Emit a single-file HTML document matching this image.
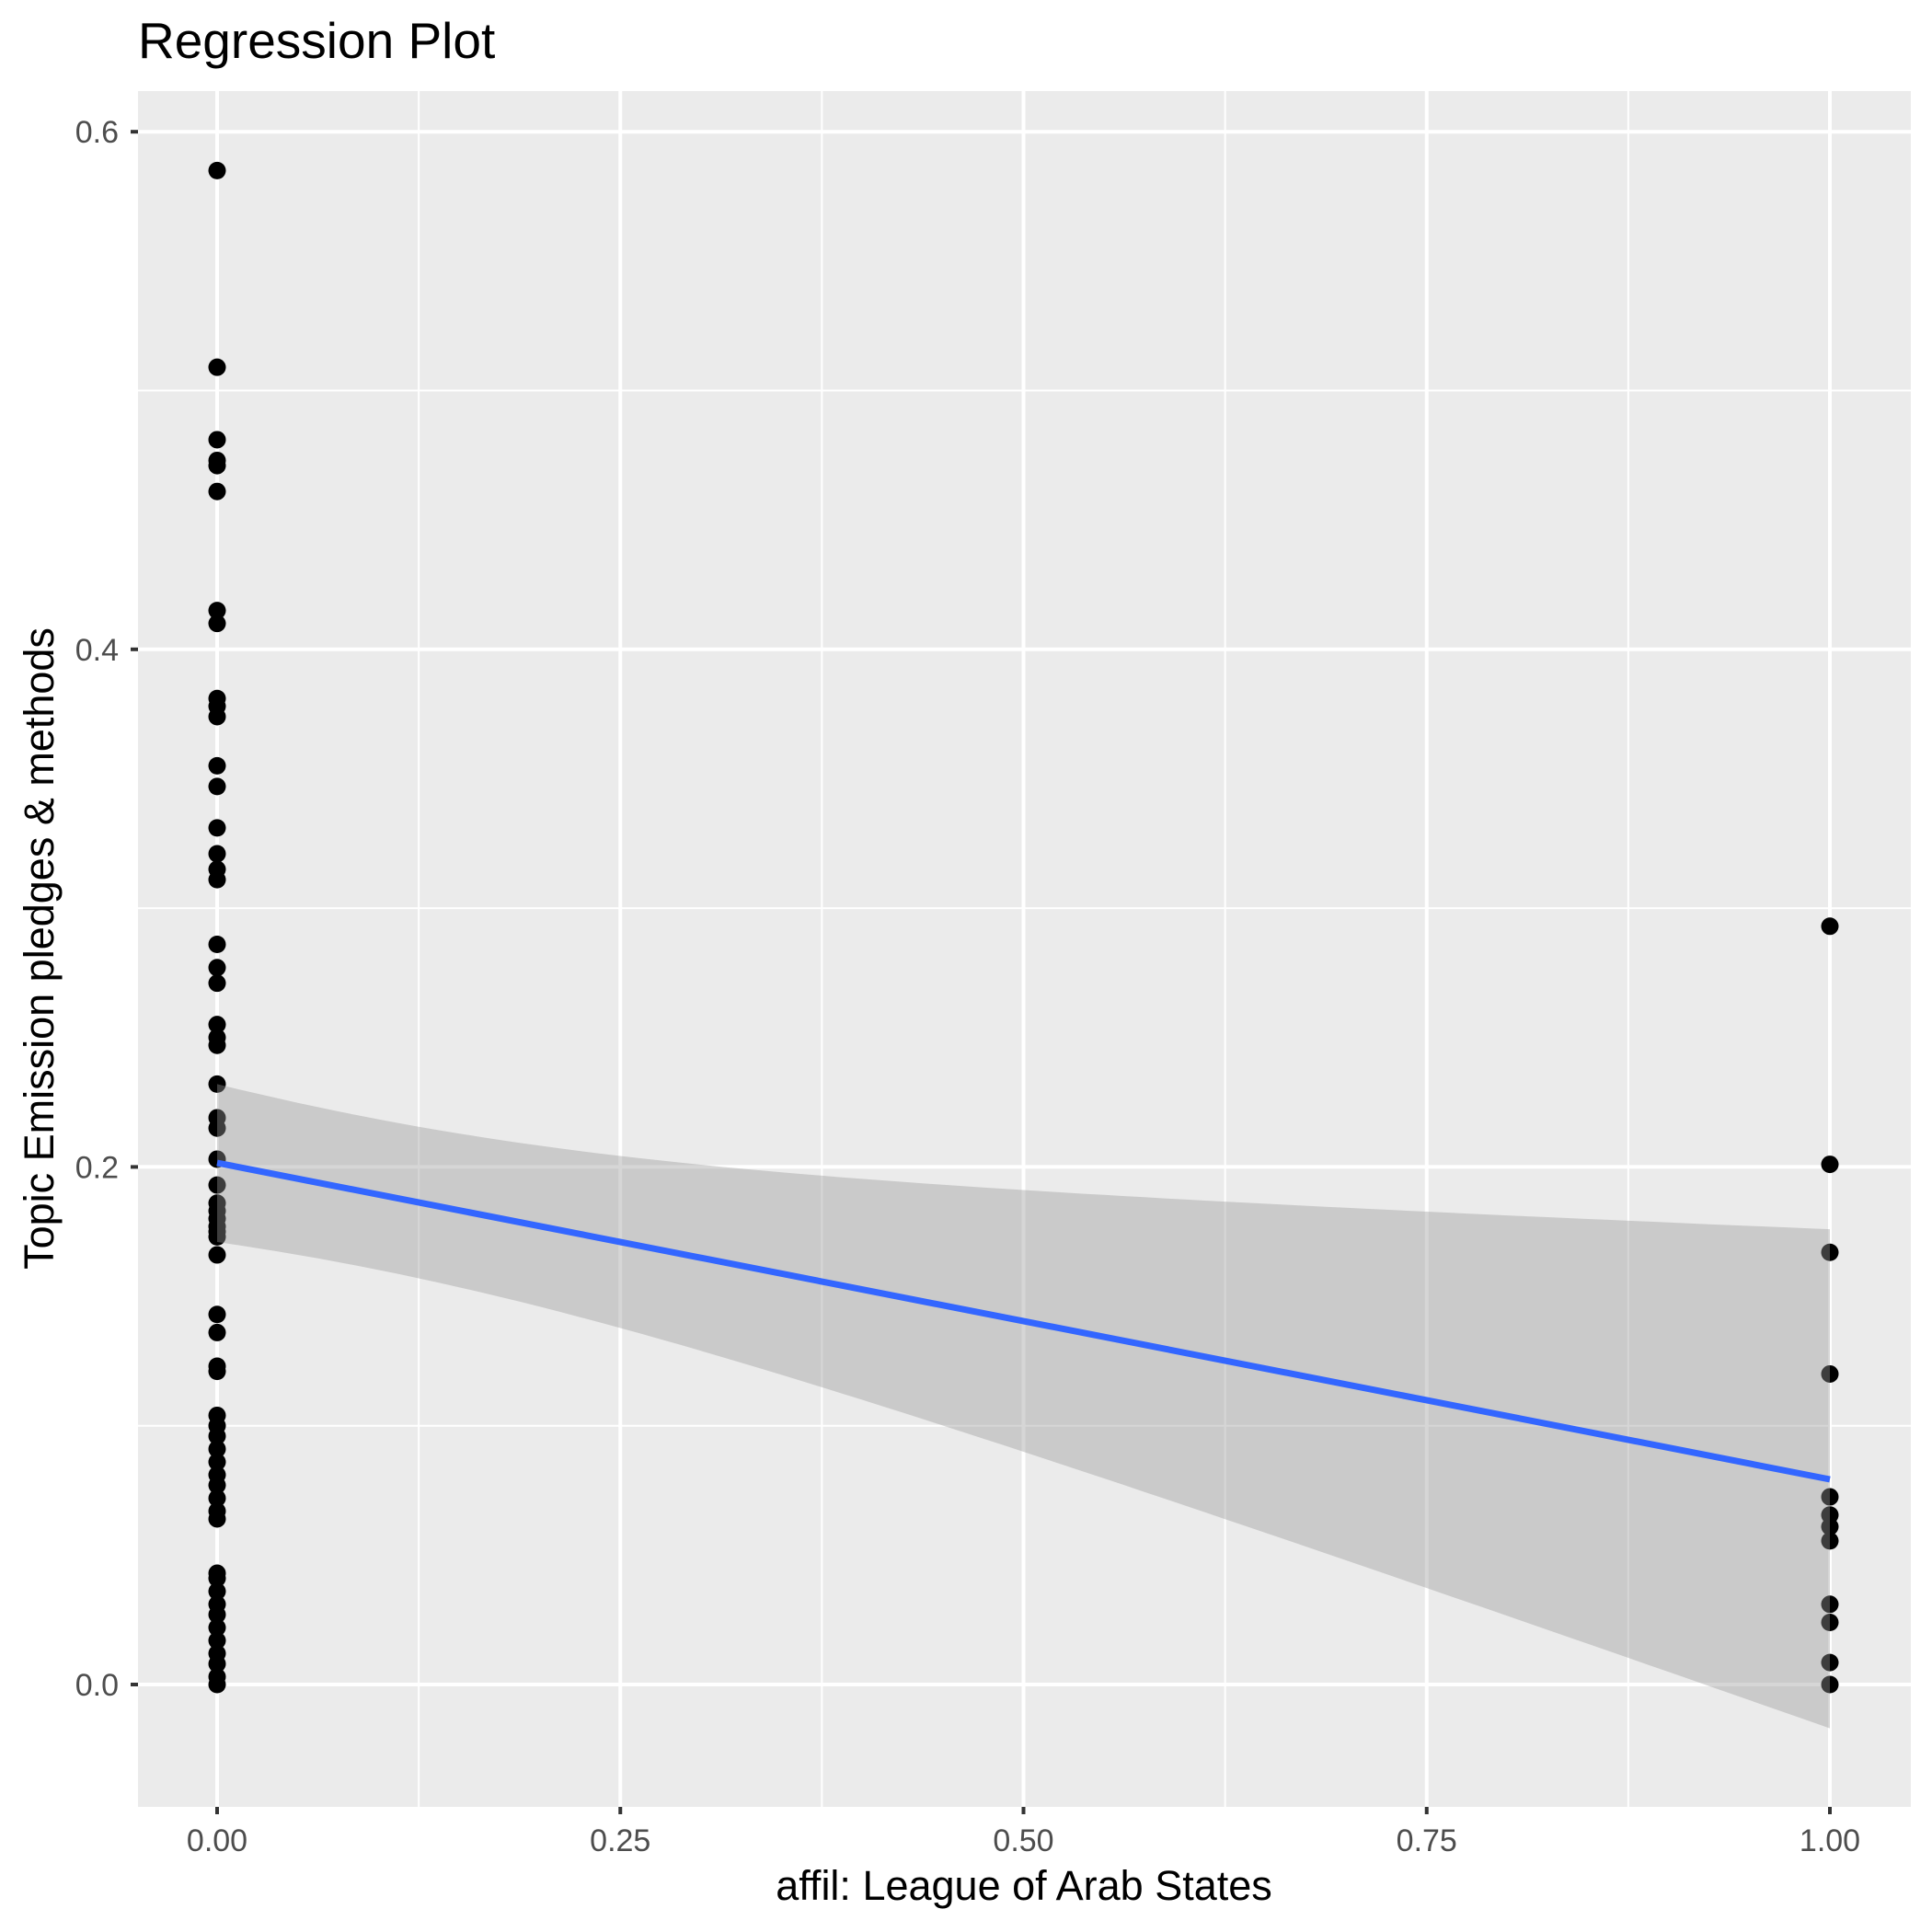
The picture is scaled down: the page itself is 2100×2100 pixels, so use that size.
<!DOCTYPE html>
<html><head><meta charset="utf-8"><style>
html,body{margin:0;padding:0;background:#fff}
svg{display:block}
text{font-family:"Liberation Sans",Arial,sans-serif}
</style></head><body>
<svg id="s" width="2100" height="2100" viewBox="0 0 2100 2100" xmlns="http://www.w3.org/2000/svg">
<rect x="0" y="0" width="2100" height="2100" fill="#fff"/>
<rect x="150" y="99" width="1927" height="1865" fill="#EBEBEB"/>
<g id="grid"></g>
<g id="pts"></g>
<path id="rib" fill="#999999" fill-opacity="0.4" stroke="none"/>
<line x1="236" y1="1264" x2="1989" y2="1608" stroke="#3366FF" stroke-width="7"/>
<g id="ax"></g>
<text x="150" y="63" font-size="55" fill="#000">Regression Plot</text>
<text x="1113" y="2065" font-size="45" fill="#000" text-anchor="middle">affil: League of Arab States</text>
<text transform="translate(58,1031) rotate(-90)" font-size="45" fill="#000" text-anchor="middle">Topic Emission pledges &amp; methods</text>
</svg>
<script>
var NS="http://www.w3.org/2000/svg";
function X(v){return 236+1753*v}
function Y(v){return 1831-2813*v}
function el(p,t,a,txt){var e=document.createElementNS(NS,t);for(var k in a)e.setAttribute(k,a[k]);if(txt)e.textContent=txt;document.getElementById(p).appendChild(e);return e}
[-0.125,0.125,0.375,0.625,0.875].forEach(function(v){var x=X(v);if(x>150&&x<2077)el("grid","line",{x1:x,x2:x,y1:99,y2:1964,stroke:"#fff","stroke-width":2});});
[0.1,0.3,0.5].forEach(function(v){var y=Y(v);el("grid","line",{x1:150,x2:2077,y1:y,y2:y,stroke:"#fff","stroke-width":2});});
[0,0.25,0.5,0.75,1].forEach(function(v){var x=X(v);el("grid","line",{x1:x,x2:x,y1:99,y2:1964,stroke:"#fff","stroke-width":4});
 el("ax","line",{x1:x,x2:x,y1:1964,y2:1972,stroke:"#333","stroke-width":4});
 el("ax","text",{x:x,y:2012,"font-size":34,fill:"#4D4D4D","text-anchor":"middle"},v.toFixed(2));});
[0,0.2,0.4,0.6].forEach(function(v){var y=Y(v);el("grid","line",{x1:150,x2:2077,y1:y,y2:y,stroke:"#fff","stroke-width":4});
 el("ax","line",{x1:142,x2:150,y1:y,y2:y,stroke:"#333","stroke-width":4});
 el("ax","text",{x:129,y:y+12,"font-size":34,fill:"#4D4D4D","text-anchor":"end"},v.toFixed(1));});
var p0=[0.585,0.509,0.481,0.473,0.471,0.461,0.415,0.410,0.381,0.378,0.374,0.355,0.347,0.331,0.321,0.315,0.311,0.286,0.277,0.271,0.255,0.250,0.247,0.232,0.219,0.215,0.203,0.193,0.186,0.183,0.180,0.177,0.175,0.173,0.166,0.143,0.136,0.123,0.121,0.104,0.100,0.096,0.091,0.086,0.081,0.077,0.072,0.067,0.064,0.043,0.041,0.036,0.031,0.027,0.022,0.017,0.012,0.008,0.003,0];
var p1=[0.293,0.201,0.167,0.120,0.0725,0.0655,0.061,0.0555,0.031,0.024,0.0085,0];
p0.forEach(function(v){el("pts","circle",{cx:X(0),cy:Y(v),r:9.5,fill:"#000"})});
p1.forEach(function(v){el("pts","circle",{cx:X(1),cy:Y(v),r:9.5,fill:"#000"})});
var a=0.2015,b=-0.122,xb=0.091,c=0.000846,up=[],lo=[];
for(var i=0;i<=80;i++){var x=i/80,m=a+b*x,h=Math.sqrt(c*(1+(x-xb)*(x-xb)/(xb*(1-xb))));
 up.push(X(x).toFixed(1)+","+Y(m+h).toFixed(1));lo.unshift(X(x).toFixed(1)+","+Y(m-h).toFixed(1));}
document.getElementById("rib").setAttribute("d","M"+up.join("L")+"L"+lo.join("L")+"Z");
</script>
</body></html>
